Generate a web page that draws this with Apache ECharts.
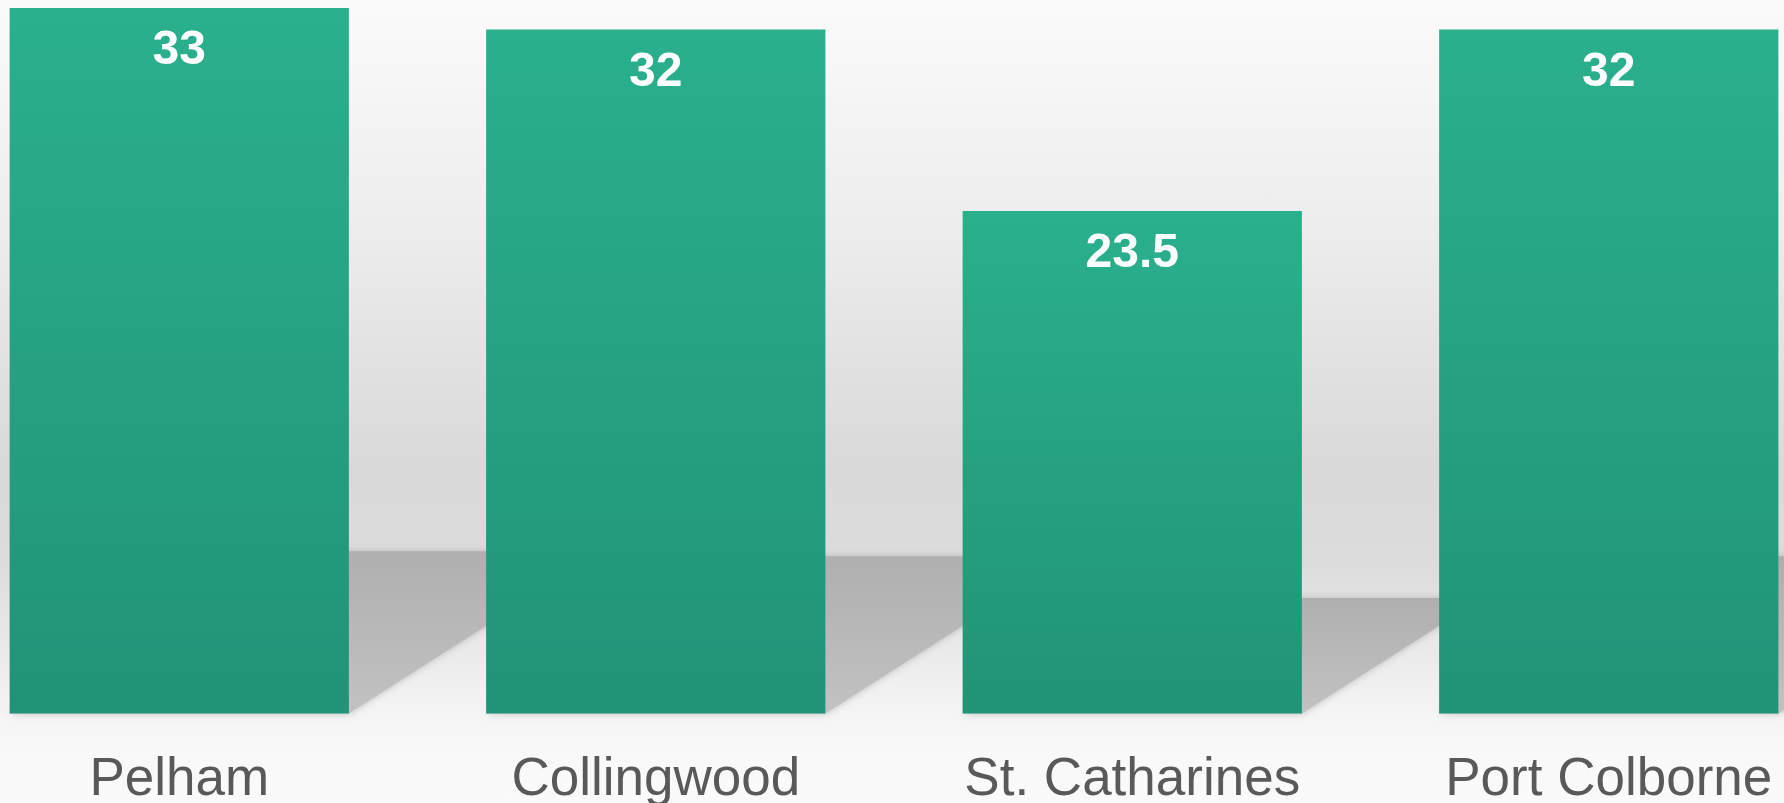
<!DOCTYPE html>
<html>
<head>
<meta charset="utf-8">
<script src="https://cdn.jsdelivr.net/npm/echarts@6/dist/echarts.min.js"></script>
<style>
  html, body { margin: 0; padding: 0; }
  #chart {
    width: 1784px; height: 803px;
    background: linear-gradient(to bottom, #fbfbfb 0%, #ececec 30%, #d9d9d9 58%, #dcdcdc 70%, #f3f3f3 88%, #f8f8f8 92%, #fafafa 100%);
  }
</style>
</head>
<body>
<div id="chart"></div>
<script>
// data
const towns = ["Pelham", "Collingwood", "St. Catharines", "Port Colborne"];
const scores = [33, 32, 23.5, 32];

const BAR_FRAC = 0.712;

document.addEventListener("DOMContentLoaded", function () {
  const chart = echarts.init(document.getElementById("chart"));

  // floor shadow behind each bar, sheared back to the right
  function renderShadow(params, api) {
    const base = api.coord([api.value(0), 0]);
    const top = api.coord([api.value(0), api.value(1)]);
    const w = api.size([1, 0])[0] * BAR_FRAC;
    const xl = base[0] - w / 2;
    const xr = base[0] + w / 2;
    const h = base[1] - top[1];
    const ys = base[1] - 0.23 * h;
    const dx = 0.36 * h;
    return {
      type: "polygon",
      shape: { points: [[xl, base[1]], [xr, base[1]], [xr + dx, ys], [xl + dx, ys]] },
      style: {
        fill: new echarts.graphic.LinearGradient(0, 0, 0, 1, [
          { offset: 0, color: "#afafaf" },
          { offset: 1, color: "#c2c2c2" }
        ]),
        shadowBlur: 7,
        shadowColor: "rgba(175,175,175,0.8)"
      }
    };
  }

  const option = {
    animation: false,
    grid: { left: -59, right: -63, top: 8, bottom: 89.5, outerBoundsMode: "none", containLabel: false },
    xAxis: {
      type: "category",
      data: towns,
      axisLine: { show: false },
      axisTick: { show: false },
      axisLabel: {
        margin: 40,
        fontSize: 53,
        color: "#595959",
        fontFamily: "Liberation Sans, Arial, sans-serif"
      }
    },
    yAxis: {
      type: "value",
      min: 0,
      max: 33,
      show: false,
      splitLine: { show: false }
    },
    series: [
      {
        type: "custom",
        renderItem: renderShadow,
        clip: false,
        silent: true,
        z: 1,
        encode: { x: 0, y: 1 },
        data: scores.map((v, i) => [i, v])
      },
      {
        type: "bar",
        z: 2,
        barWidth: (BAR_FRAC * 100) + "%",
        data: scores,
        itemStyle: {
          color: new echarts.graphic.LinearGradient(0, 0, 0, 1, [
            { offset: 0, color: "#2ab08d" },
            { offset: 1, color: "#219377" }
          ])
        },
        label: {
          show: true,
          position: "insideTop",
          distance: 19,
          color: "#ffffff",
          fontSize: 48,
          fontWeight: "bold",
          fontFamily: "Liberation Sans, Arial, sans-serif"
        }
      }
    ]
  };

  chart.setOption(option);
});
</script>
</body>
</html>
